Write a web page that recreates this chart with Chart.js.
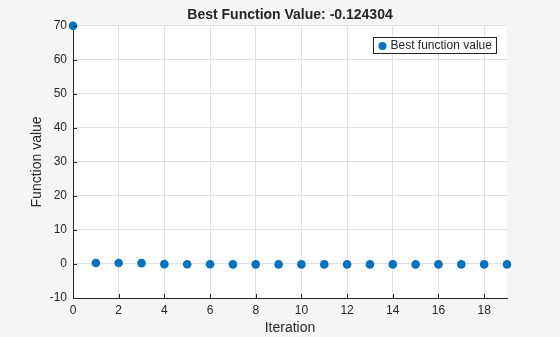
<!DOCTYPE html>
<html>
<head>
<meta charset="utf-8">
<script src="https://cdn.jsdelivr.net/npm/chart.js@4/dist/chart.umd.min.js"></script>
<style>
  html, body { margin: 0; padding: 0; background: #f5f5f5; }
  #wrap { width: 560px; height: 337px; }
</style>
</head>
<body>
<div id="wrap"><canvas id="myChart" width="560" height="337"></canvas></div>
<script>
// data
var iterations = [0, 1, 2, 3, 4, 5, 6, 7, 8, 9, 10, 11, 12, 13, 14, 15, 16, 17, 18, 19];
var bestValues = [70, 0.3, 0.28, 0.25, -0.05, -0.08, -0.1, -0.11, -0.115, -0.118,
                  -0.12, -0.121, -0.122, -0.123, -0.123, -0.124, -0.124, -0.124, -0.124, -0.124304];
var xTicks = [0, 2, 4, 6, 8, 10, 12, 14, 16, 18];
var yTicks = [-10, 0, 10, 20, 30, 40, 50, 60, 70];
var seriesLabel = "Best function value";
var titleText = "Best Function Value: -0.124304";

var FONT = "'Liberation Sans', Arial, Helvetica, sans-serif";
var INK = "#262626";
var BLUE = "#0072BD";

/* white plot box, inward ticks and boxed legend ------------------- */
var matlabLook = {
    id: 'matlabLook',
    beforeDraw: function(chart){
        var a = chart.chartArea, c = chart.ctx;
        c.save();
        c.fillStyle = "#ffffff";
        c.fillRect(a.left, a.top, a.right - a.left, a.bottom - a.top);
        c.restore();
    },
    afterDraw: function(chart){
        var a = chart.chartArea, c = chart.ctx;
        var xs = chart.scales.x, ys = chart.scales.y;
        c.save();
        c.strokeStyle = INK;
        c.lineWidth = 1;
        c.beginPath();
        yTicks.forEach(function(v){
            var y = Math.round(ys.getPixelForValue(v)) + 0.5;
            c.moveTo(a.left, y); c.lineTo(a.left + 4, y);
        });
        xTicks.forEach(function(v){
            var x = Math.round(xs.getPixelForValue(v)) + 0.5;
            c.moveTo(x, a.bottom); c.lineTo(x, a.bottom - 4);
        });
        c.stroke();

        // legend box
        var bx = 373.5, by = 37.5, bw = 123, bh = 16;
        c.fillStyle = "#ffffff";
        c.fillRect(bx, by, bw, bh);
        c.strokeRect(bx, by, bw, bh);
        c.fillStyle = BLUE;
        c.beginPath();
        c.arc(bx + 9, by + 8.5, 4, 0, Math.PI * 2);
        c.fill();
        c.fillStyle = INK;
        c.font = "12px " + FONT;
        c.textBaseline = "middle";
        c.fillText(seriesLabel, bx + 17, by + 8.5);
        c.restore();
    }
};

var ctx = document.getElementById("myChart").getContext("2d");
var data = {
    datasets: [
        {
            label: seriesLabel,
            data: iterations.map(function(it, i){ return {x: it, y: bestValues[i]}; }),
            backgroundColor: BLUE,
            borderColor: BLUE,
            pointRadius: 4.3,
            pointBorderWidth: 0,
            showLine: false,
            clip: false
        }
    ]
};
var options = {
    responsive: false,
    animation: false,
    layout: { padding: { left: 0, right: 53, top: 0, bottom: 0 } },
    plugins: {
        legend: { display: false },
        tooltip: { enabled: false },
        title: {
            display: true,
            fullSize: false,
            text: titleText,
            color: INK,
            font: { family: FONT, size: 14, weight: 'bold' },
            padding: { top: 7, bottom: 2 }
        }
    },
    scales: {
        x: {
            type: 'linear',
            min: 0,
            max: 19,
            afterFit: function(s){ s.height = 39; },
            afterBuildTicks: function(s){ s.ticks = xTicks.map(function(v){ return {value: v}; }); },
            ticks: { color: INK, font: { family: FONT, size: 12 }, padding: 5, maxRotation: 0 },
            grid: { color: "#e0e0e0", drawTicks: false },
            border: { display: true, color: INK, width: 1 },
            title: { display: true, text: "Iteration", color: INK,
                     font: { family: FONT, size: 14 }, padding: { top: 0, bottom: 0 } }
        },
        y: {
            type: 'linear',
            min: -10,
            max: 70,
            afterFit: function(s){ s.width = 73; },
            afterBuildTicks: function(s){ s.ticks = yTicks.map(function(v){ return {value: v}; }); },
            ticks: { color: INK, font: { family: FONT, size: 12 }, padding: 6 },
            grid: { color: "#e0e0e0", drawTicks: false },
            border: { display: true, color: INK, width: 1 },
            title: { display: true, text: "Function value", color: INK,
                     font: { family: FONT, size: 14 }, padding: { top: 29, bottom: 0 } }
        }
    }
};
var myChart = new Chart(ctx, {
    type: 'scatter',
    data: data,
    options: options,
    plugins: [matlabLook]
});
</script>
</body>
</html>
